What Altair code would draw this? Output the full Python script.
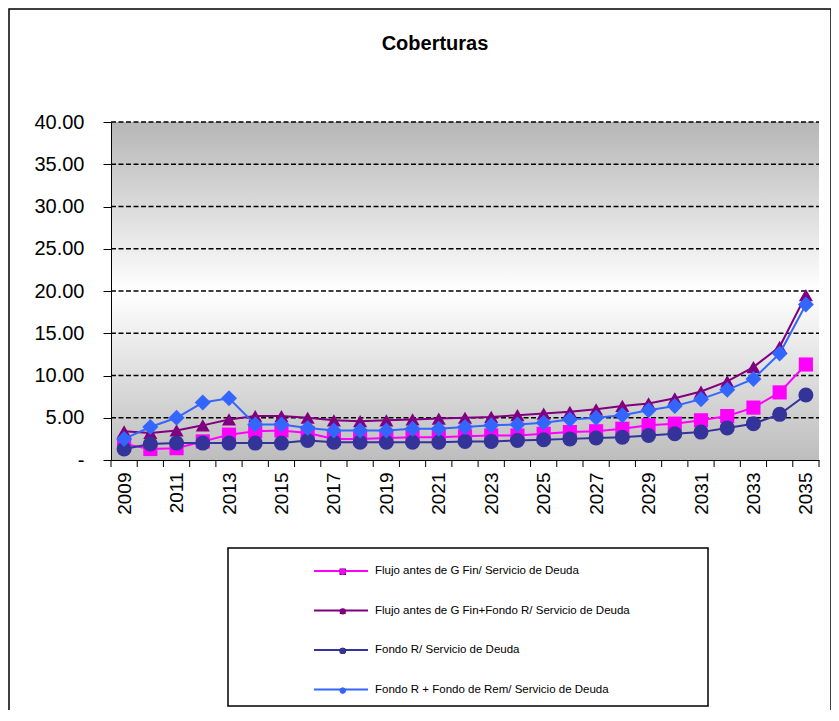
import altair as alt
import pandas as pd

years = list(range(2009, 2036))
series_names = [
    "Flujo antes de G Fin/ Servicio de Deuda",
    "Flujo antes de G Fin+Fondo R/ Servicio de Deuda",
    "Fondo R/ Servicio de Deuda",
    "Fondo R + Fondo de Rem/ Servicio de Deuda",
]
flujo = [1.9, 1.3, 1.4, 2.2, 3.0, 3.4, 3.5, 3.2, 2.5, 2.5, 2.6, 2.7, 2.7, 2.8,
         2.9, 2.9, 3.1, 3.3, 3.4, 3.7, 4.1, 4.3, 4.7, 5.2, 6.2, 8.0, 11.3]
flujo_fondo = [3.4, 3.2, 3.5, 4.1, 4.8, 5.2, 5.2, 5.0, 4.7, 4.6, 4.7, 4.8, 4.9, 5.0,
               5.1, 5.3, 5.5, 5.7, 6.0, 6.4, 6.7, 7.3, 8.1, 9.3, 11.0, 13.4, 19.5]
fondo = [1.3, 1.9, 2.0, 2.0, 2.0, 2.0, 2.0, 2.3, 2.1, 2.1, 2.1, 2.1, 2.1, 2.2,
         2.2, 2.3, 2.4, 2.5, 2.6, 2.7, 2.9, 3.1, 3.3, 3.8, 4.3, 5.4, 7.7]
fondo_rem = [2.5, 3.9, 5.0, 6.8, 7.3, 4.2, 4.2, 3.8, 3.5, 3.5, 3.5, 3.7, 3.7, 3.9,
             4.1, 4.2, 4.4, 4.8, 5.0, 5.3, 5.9, 6.4, 7.2, 8.3, 9.6, 12.6, 18.4]
y_ticks = [0, 5, 10, 15, 20, 25, 30, 35, 40]

colors = ["#FF00FF", "#800080", "#333399", "#3366FF"]
shapes = ["square", "triangle-up", "circle", "diamond"]
sizes = [200, 200, 225, 256]

rows = []
for name, vals in zip(series_names, [flujo, flujo_fondo, fondo, fondo_rem]):
    for yr, v in zip(years, vals):
        rows.append({"anio": yr, "valor": v, "serie": name, "serie_m": name})
df = pd.DataFrame(rows)
tick_df = pd.DataFrame({"t": [y - 0.5 for y in years] + [years[-1] + 0.5]})
grid_df = pd.DataFrame({"g": y_ticks[1:]})

W, H = 708, 338
FONT = "Liberation Sans"

x_scale = alt.Scale(domain=[years[0] - 0.5, years[-1] + 0.5], nice=False, zero=False)
y_scale = alt.Scale(domain=[0, 40], nice=False, zero=True)
x_axis = alt.Axis(values=years[::2], labelAngle=270, ticks=False, labelPadding=12,
                  labelFontSize=19, domainColor="black", domainWidth=1, grid=False,
                  title=None, labelColor="black", labelFlush=False, labelOverlap=False,
                  format="d", zindex=1)
y_axis = alt.Axis(values=y_ticks,
                  labelExpr="datum.value == 0 ? '-\u00a0\u00a0' : format(datum.value, '.2f')",
                  tickSize=8, labelPadding=19, grid=False, domainColor="black", domainWidth=1,
                  tickColor="black", labelFontSize=20, labelColor="black", title=None,
                  zindex=1)

X = alt.X("anio:Q", scale=x_scale, axis=x_axis)
Y = alt.Y("valor:Q", scale=y_scale, axis=y_axis)

one = alt.Data(values=[{"k": 1}])
frame = alt.Chart(one).mark_rect(fill="white", stroke="black", strokeWidth=1.5).encode(
    x=alt.value(-102), x2=alt.value(720), y=alt.value(-113), y2=alt.value(589))
legend_box = alt.Chart(one).mark_rect(fill="white", stroke="black", strokeWidth=1.5).encode(
    x=alt.value(117), x2=alt.value(597), y=alt.value(426), y2=alt.value(584))
grad = alt.Gradient(gradient="linear", x1=0, x2=0, y1=0, y2=1, stops=[
    alt.GradientStop(color="#b6b6b6", offset=0),
    alt.GradientStop(color="#ffffff", offset=0.5),
    alt.GradientStop(color="#bdbdbd", offset=1),
])
bg = alt.Chart(one).mark_rect(color=grad).encode(
    x=alt.value(0), x2=alt.value(W), y=alt.value(0), y2=alt.value(H))

grid = alt.Chart(grid_df).mark_rule(color="black", strokeWidth=1.6, strokeDash=[5, 2.5]).encode(
    y=alt.Y("g:Q", scale=y_scale, axis=y_axis), x=alt.value(0), x2=alt.value(W))

ticks = alt.Chart(tick_df).mark_rule(color="black", strokeWidth=1).encode(
    x=alt.X("t:Q", scale=x_scale, axis=x_axis), y=alt.value(H), y2=alt.value(H + 7))

stroke_legend = alt.Legend(orient="none", legendX=202, legendY=421, title=None,
                           symbolType="stroke", symbolSize=2916, symbolStrokeWidth=2,
                           labelFontSize=11.5, labelOffset=6, labelLimit=400,
                           rowPadding=5.5, padding=0, labelColor="black", labelFont=FONT)
marker_legend = alt.Legend(orient="none", legendX=226, legendY=444, title=None,
                           symbolSize=40, symbolStrokeWidth=0, labelExpr="''",
                           labelFontSize=11.5, labelOffset=0, labelLimit=400,
                           rowPadding=26.6, padding=0, labelFont=FONT)

base = alt.Chart(df)
layers = [frame, legend_box, bg, grid, ticks]
for name, size in zip(series_names, sizes):
    line = base.transform_filter(alt.datum.serie == name).mark_line(strokeWidth=2).encode(
        x=X, y=Y,
        stroke=alt.Stroke("serie:N", scale=alt.Scale(domain=series_names, range=colors),
                          legend=stroke_legend))
    pts = base.transform_filter(alt.datum.serie == name).mark_point(
        filled=True, opacity=1, size=size).encode(
        x=X, y=Y,
        fill=alt.Fill("serie_m:N", sort=series_names, scale=alt.Scale(range=colors),
                      legend=marker_legend),
        shape=alt.Shape("serie_m:N", sort=series_names, scale=alt.Scale(range=shapes),
                        legend=marker_legend))
    layers += [line, pts]

chart = alt.layer(*layers).properties(
    width=W, height=H,
    title=alt.TitleParams("Coberturas", fontSize=20, fontWeight="bold", anchor="middle",
                          frame="group", offset=-46, dx=-30, color="black", font=FONT),
    autosize=alt.AutoSizeParams(type="none"),
    padding={"left": 103, "top": 114, "right": 12, "bottom": 250},
).configure(font=FONT).configure_view(strokeWidth=0)

chart.save("out.html", embed_options={"renderer": "svg", "actions": False})
